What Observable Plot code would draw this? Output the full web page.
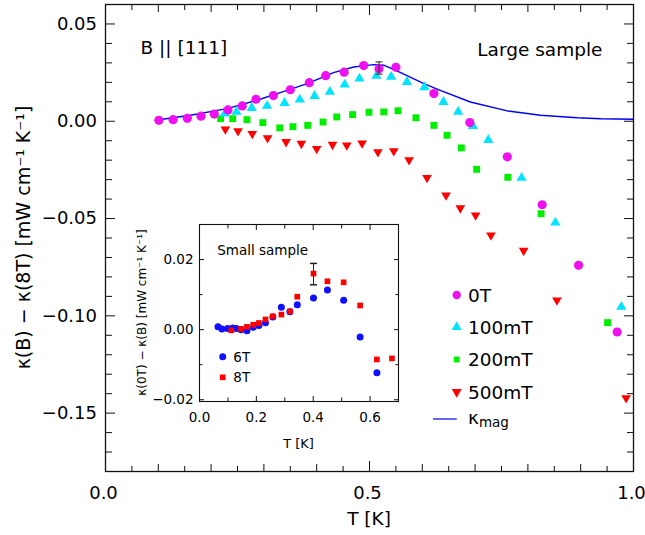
<!DOCTYPE html>
<html><head><meta charset="utf-8">
<script src="https://cdn.jsdelivr.net/npm/d3@7"></script>
<script src="https://cdn.jsdelivr.net/npm/@observablehq/plot@0.6"></script>
<style>body{margin:0;background:#fff}#chart{position:relative;width:645px;height:535px}#chart svg{display:block}</style>
</head><body><div id="chart"></div>
<script>
const FONT = "'DejaVu Sans', sans-serif";

// ---- Main panel data (Large sample, B || [111]) ----
const T0   = [0.101,0.128,0.155,0.181,0.206,0.232,0.259,0.285,0.318,0.350,0.386,0.417,0.452,0.489,0.518,0.550,0.622,0.690,0.761,0.827,0.896,0.969];
const v0   = [0.0005,0.0008,0.0015,0.0026,0.0037,0.0058,0.0079,0.0113,0.0132,0.0162,0.0198,0.0234,0.0252,0.0286,0.0270,0.0277,0.0142,-0.0007,-0.0183,-0.0429,-0.0740,-0.1083];
const T100 = [0.226,0.248,0.277,0.306,0.339,0.368,0.396,0.425,0.453,0.481,0.513,0.541,0.571,0.604,0.640,0.668,0.696,0.725,0.788,0.852,0.977];
const v100 = [0.0039,0.0048,0.0068,0.0079,0.0094,0.0111,0.0130,0.0151,0.0188,0.0219,0.0233,0.0228,0.0202,0.0175,0.0099,0.0048,-0.0024,-0.0096,-0.0291,-0.0521,-0.0954];
const T200 = [0.218,0.241,0.268,0.298,0.330,0.355,0.383,0.412,0.438,0.468,0.499,0.527,0.554,0.588,0.622,0.647,0.674,0.703,0.762,0.825,0.951];
const v200 = [0.0013,0.0013,0.0008,-0.0007,-0.0034,-0.0028,-0.0021,-0.0004,0.0022,0.0034,0.0046,0.0048,0.0054,0.0018,-0.0021,-0.0072,-0.0137,-0.0247,-0.0288,-0.0475,-0.1035];
const T500 = [0.227,0.251,0.278,0.307,0.342,0.371,0.400,0.430,0.457,0.486,0.516,0.546,0.575,0.609,0.645,0.672,0.701,0.730,0.792,0.855,0.986];
const v500 = [-0.0041,-0.0050,-0.0064,-0.0086,-0.0106,-0.0115,-0.0141,-0.0120,-0.0123,-0.0113,-0.0158,-0.0153,-0.0199,-0.0290,-0.0380,-0.0446,-0.0483,-0.0586,-0.0665,-0.0920,-0.1422];
const Tmag = [0.101,0.161,0.230,0.287,0.331,0.382,0.432,0.470,0.508,0.527,0.559,0.603,0.634,0.691,0.761,0.824,0.893,0.938,1.0];
const vmag = [0.0008,0.0031,0.0065,0.0108,0.0147,0.0193,0.0250,0.0279,0.0291,0.0288,0.0250,0.0193,0.0159,0.0099,0.0053,0.0031,0.0018,0.0013,0.0010];
const errMainT = [0.518], errMainLo = [0.0242], errMainHi = [0.0305];

const seriesNames  = ["0T","100mT","200mT","500mT"];
const seriesColors = ["#ee11ee","#00e5ff","#00ee00","#ff0000"];

// main ticks
const xMajor = [0, 0.5, 1.0];
const xMid   = [0.1,0.2,0.3,0.4,0.6,0.7,0.8,0.9];
const xMinor = [0.05,0.15,0.25,0.35,0.45,0.55,0.65,0.75,0.85,0.95];
const yMajor = [-0.15,-0.10,-0.05,0.00,0.05];
const yMinor = [-0.17,-0.16,-0.14,-0.13,-0.12,-0.11,-0.09,-0.08,-0.07,-0.06,-0.04,-0.03,-0.02,-0.01,0.01,0.02,0.03,0.04];

// ---- Inset data (Small sample) ----
const T6 = [0.065,0.079,0.099,0.117,0.130,0.146,0.167,0.189,0.209,0.232,0.258,0.288,0.318,0.344,0.401,0.450,0.507,0.565,0.624];
const v6 = [0.0008,0.0002,0.0003,0.0005,0.0003,0.0000,-0.0003,0.0007,0.0012,0.0020,0.0036,0.0064,0.0051,0.0071,0.0090,0.0113,0.0084,-0.0021,-0.0123];
const T8 = [0.112,0.146,0.167,0.189,0.209,0.232,0.258,0.288,0.318,0.344,0.401,0.450,0.507,0.565,0.624,0.677];
const v8 = [-0.0002,0.0002,0.0008,0.0014,0.0019,0.0029,0.0038,0.0043,0.0052,0.0094,0.0160,0.0138,0.0135,0.0069,-0.0085,-0.0082];
const errInsetT = [0.401], errInsetLo = [0.0128], errInsetHi = [0.0189];
const insetNames = ["6T","8T"];
const insetColors = ["#1010ff","#ff0000"];
const ixMajor = [0, 0.2, 0.4, 0.6];
const ixMinor = [0.1, 0.3, 0.5, 0.7];
const iyMajor = [-0.02, 0.00, 0.02];
const iyMinor = [-0.01, 0.01];

const rows = (T, v) => T.map((t, i) => ({T: t, v: v[i]}));
const errRows = (T, lo, hi) => T.map((t, i) => ({T: t, lo: lo[i], hi: hi[i]}));

const triDown = {draw(ctx, size) {
  const y = -Math.sqrt(size / (3 * Math.sqrt(3)));
  ctx.moveTo(0, -2 * y); ctx.lineTo(-Math.sqrt(3) * y, y); ctx.lineTo(Math.sqrt(3) * y, y); ctx.closePath();
}};
const capSym = w => ({draw(ctx) { ctx.moveTo(-w, 0); ctx.lineTo(w, 0); }});
const blank = () => "";

function tickAxes(xM, xm, xmm, yM, ym, big, mid, small) {
  const out = [];
  for (const a of ["bottom","top"]) {
    out.push(Plot.axisX(xM, {anchor: a, tickSize: -big, tickFormat: blank, label: null, stroke: "#111"}));
    if (xm) out.push(Plot.axisX(xm, {anchor: a, tickSize: -mid, tickFormat: blank, label: null, stroke: "#111"}));
    if (xmm) out.push(Plot.axisX(xmm, {anchor: a, tickSize: -small, tickFormat: blank, label: null, stroke: "#111"}));
  }
  for (const a of ["left","right"]) {
    out.push(Plot.axisY(yM, {anchor: a, tickSize: -big, tickFormat: blank, label: null, stroke: "#111"}));
    out.push(Plot.axisY(ym, {anchor: a, tickSize: -mid, tickFormat: blank, label: null, stroke: "#111"}));
  }
  return out;
}

const main = Plot.plot({
  width: 645, height: 535,
  marginLeft: 105, marginRight: 12, marginTop: 4, marginBottom: 64,
  style: {fontFamily: FONT, fontSize: "18px", color: "black", background: "white"},
  x: {domain: [0, 1]},
  y: {domain: [-0.18, 0.06]},
  marks: [
    ...tickAxes(xMajor, xMid, xMinor, yMajor, yMinor, 10, 7, 5),
    Plot.axisX(xMajor, {anchor: "bottom", tickSize: 0, tickPadding: 14.5, dx: -2, tickFormat: d3.format(".1f"), label: null, fontSize: 18}),
    Plot.axisY(yMajor, {anchor: "left", tickSize: 0, tickPadding: 8.5, tickFormat: d3.format(".2f"), label: null, fontSize: 18}),
    Plot.line(rows(Tmag, vmag), {x: "T", y: "v", stroke: "#0000ff", strokeWidth: 1.4}),
    Plot.dot(rows(T500, v500), {x: "T", y: "v", symbol: triDown, r: 3.6, fill: seriesColors[3]}),
    Plot.dot(rows(T200, v200), {x: "T", y: "v", symbol: "square", r: 3.9, fill: seriesColors[2]}),
    Plot.dot(rows(T100, v100), {x: "T", y: "v", symbol: "triangle", r: 3.8, fill: seriesColors[1]}),
    Plot.dot(rows(T0, v0), {x: "T", y: "v", symbol: "circle", r: 4.6, fill: seriesColors[0]}),
    Plot.ruleX(errRows(errMainT, errMainLo, errMainHi), {x: "T", y1: "lo", y2: "hi", stroke: "#333", strokeWidth: 1.1}),
    Plot.dot(errRows(errMainT, errMainLo, errMainHi), {x: "T", y: "lo", symbol: capSym(3.5), r: 3, stroke: "#333", fill: "none", strokeWidth: 1.1}),
    Plot.dot(errRows(errMainT, errMainLo, errMainHi), {x: "T", y: "hi", symbol: capSym(3.5), r: 3, stroke: "#333", fill: "none", strokeWidth: 1.1}),
    Plot.text(["B || [111]"], {frameAnchor: "top-left", dx: 35, dy: 44, textAnchor: "start", lineAnchor: "middle", fontSize: 18.5}),
    Plot.text(["Large sample"], {frameAnchor: "top-right", dx: -31, dy: 46, textAnchor: "end", lineAnchor: "middle", fontSize: 18.5}),
    Plot.frame({stroke: "#111", strokeWidth: 1.3})
  ]
});

const inset = Plot.plot({
  width: 274, height: 237,
  marginLeft: 70, marginRight: 5, marginTop: 10, marginBottom: 50,
  style: {fontFamily: FONT, fontSize: "13.5px", color: "black", background: "transparent", overflow: "visible"},
  x: {domain: [0, 0.7]},
  y: {domain: [-0.0205, 0.03]},
  marks: [
    ...tickAxes(ixMajor, ixMinor, null, iyMajor, iyMinor, 5, 3.5, 3),
    Plot.axisX(ixMajor, {anchor: "bottom", tickSize: 0, tickPadding: 10.5, tickFormat: d3.format(".1f"), label: null, fontSize: 13.5}),
    Plot.axisY(iyMajor, {anchor: "left", tickSize: 0, tickPadding: 6, tickFormat: d3.format(".2f"), label: null, fontSize: 13.5}),
    Plot.dot(rows(T6, v6), {x: "T", y: "v", symbol: "circle", r: 3.5, fill: insetColors[0]}),
    Plot.dot(rows(T8, v8), {x: "T", y: "v", symbol: "square", r: 3.2, fill: insetColors[1]}),
    Plot.ruleX(errRows(errInsetT, errInsetLo, errInsetHi), {x: "T", y1: "lo", y2: "hi", stroke: "#222", strokeWidth: 1}),
    Plot.dot(errRows(errInsetT, errInsetLo, errInsetHi), {x: "T", y: "lo", symbol: capSym(3.5), r: 3, stroke: "#222", fill: "none"}),
    Plot.dot(errRows(errInsetT, errInsetLo, errInsetHi), {x: "T", y: "hi", symbol: capSym(3.5), r: 3, stroke: "#222", fill: "none"}),
    Plot.text(["Small sample"], {frameAnchor: "top-left", dx: 17.7, dy: 26, textAnchor: "start", lineAnchor: "middle", fontSize: 13.5}),
    Plot.frame({stroke: "#111", strokeWidth: 1.1})
  ]
});

// axis titles, legends (added as real SVG text)
const svg = d3.select(main);
svg.append("text").attr("transform", "translate(29.5,237.5) rotate(-90)")
  .attr("text-anchor", "middle").attr("font-family", FONT).attr("font-size", 19)
  .text("κ(B) − κ(8T) [mW cm⁻¹ K⁻¹]");
svg.append("text").attr("x", 369).attr("y", 525)
  .attr("text-anchor", "middle").attr("font-family", FONT).attr("font-size", 18.5)
  .text("T [K]");

// main legend
const symbols = [d3.symbolCircle, d3.symbolTriangle, d3.symbolSquare, triDown];
const symSizes = [Math.PI * 4.2 * 4.2, Math.PI * 3.7 * 3.7, Math.PI * 3.3 * 3.3, Math.PI * 3.7 * 3.7];
const legY = [295, 327, 359.5, 392];
const lg = svg.append("g").attr("font-family", FONT).attr("font-size", 18.5).attr("text-anchor", "start");
seriesNames.forEach((name, i) => {
  lg.append("path").attr("transform", `translate(456.7,${legY[i]})`)
    .attr("d", d3.symbol(symbols[i], symSizes[i])()).attr("fill", seriesColors[i]);
  lg.append("text").attr("x", 468).attr("y", legY[i]).attr("dy", "0.36em").attr("text-anchor", "start").text(name);
});
lg.append("line").attr("x1", 433).attr("x2", 456.7).attr("y1", 419).attr("y2", 419)
  .attr("stroke", "#0000ff").attr("stroke-width", 1.2);
const km = lg.append("text").attr("x", 468).attr("y", 424).attr("text-anchor", "start");
km.append("tspan").text("κ");
km.append("tspan").attr("font-size", 13.5).attr("dy", 3).text("mag");

// inset titles + legend
const is = d3.select(inset);
is.append("text").attr("transform", "translate(17,98.5) rotate(-90)")
  .attr("text-anchor", "middle").attr("font-family", FONT).attr("font-size", 12)
  .text("κ(0T) − κ(B) [mW cm⁻¹ K⁻¹]");
is.append("text").attr("x", 169.5).attr("y", 234).attr("text-anchor", "middle")
  .attr("font-family", FONT).attr("font-size", 13).text("T [K]");
const ilegY = [142.7, 163.3];
const isyms = [d3.symbolCircle, d3.symbolSquare];
const isizes = [Math.PI * 3.5 * 3.5, Math.PI * 3.2 * 3.2];
insetNames.forEach((name, i) => {
  is.append("path").attr("transform", `translate(93.7,${ilegY[i]})`)
    .attr("d", d3.symbol(isyms[i], isizes[i])()).attr("fill", insetColors[i]);
  is.append("text").attr("x", 104.3).attr("y", ilegY[i]).attr("dy", "0.36em").attr("text-anchor", "start")
    .attr("font-family", FONT).attr("font-size", 13.5).text(name);
});

const chart = document.getElementById("chart");
chart.appendChild(main);
inset.style.position = "absolute";
inset.style.left = "129px";
inset.style.top = "214px";
inset.style.width = "274px";
inset.style.height = "237px";
inset.style.maxWidth = "none";
chart.appendChild(inset);
</script>
</body></html>
